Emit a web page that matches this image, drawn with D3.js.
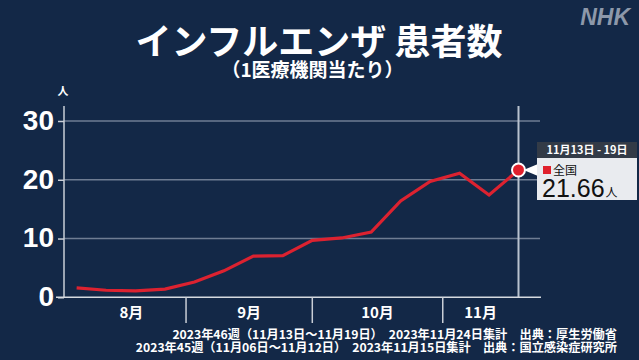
<!DOCTYPE html>
<html><head><meta charset="utf-8">
<script src="https://cdn.jsdelivr.net/npm/d3@7"></script>
<style>
html,body{margin:0;padding:0;background:#132847;}
svg{display:block;}
</style></head>
<body>
<svg id="c" width="639" height="360"></svg>
<script>
// ---- data ----
const weekEnds = ["2023-08-06","2023-08-13","2023-08-20","2023-08-27","2023-09-03","2023-09-10","2023-09-17","2023-09-24","2023-10-01","2023-10-08","2023-10-15","2023-10-22","2023-10-29","2023-11-05","2023-11-12","2023-11-19"];
const values = [1.6,1.2,1.1,1.4,2.6,4.5,7.0,7.1,9.7,10.1,11.1,16.4,19.7,21.1,17.4,21.66];
const yTicks = [0,10,20,30];
const monthLabels = ["8月","9月","10月","11月"];
const monthStarts = ["2023-08-01","2023-09-01","2023-10-01","2023-11-01","2023-12-01"];
const title = "インフルエンザ 患者数";
const subtitle = "（1医療機関当たり）";
const unit = "人";
const tipDate = "11月13日 - 19日";
const tipRegion = "全国";
const footer1 = "2023年46週（11月13日～11月19日）　2023年11月24日集計　出典：厚生労働省";
const footer2 = "2023年45週（11月06日～11月12日）　2023年11月15日集計　出典：国立感染症研究所";

const parse = d3.utcParse("%Y-%m-%d");
const dates = weekEnds.map(parse);
const svg = d3.select("#c");
const JP = "'Noto Sans CJK JP','Noto Sans',sans-serif";
const NUM = "'Liberation Sans',Arial,sans-serif";

const x = d3.scaleUtc().domain([parse("2023-08-03"), parse("2023-11-19")]).range([64, 518.5]);
const y = d3.scaleLinear().domain([0,30]).range([297.3,121]);

// title
svg.append("text").attr("x",319).attr("y",55).attr("text-anchor","middle")
  .attr("font-family",JP).attr("font-weight",700).attr("font-size",36).attr("fill","#fff").text(title);
svg.append("text").attr("x",312.5).attr("y",77).attr("text-anchor","middle")
  .attr("font-family",JP).attr("font-weight",700).attr("font-size",19).attr("fill","#fff").text(subtitle);
// NHK logo
svg.append("text").attr("x",630).attr("y",25).attr("text-anchor","end")
  .attr("font-family",NUM).attr("font-weight",700).attr("font-style","italic").attr("font-size",23)
  .attr("fill","#8d98aa").text("NHK");
// unit
svg.append("text").attr("x",63).attr("y",95).attr("text-anchor","middle")
  .attr("font-family",JP).attr("font-weight",700).attr("font-size",11).attr("fill","#fff").text(unit);

// gridlines
svg.append("g").selectAll("line").data(yTicks.filter(d=>d>0)).join("line")
  .attr("x1",64).attr("x2",540).attr("y1",d=>y(d)).attr("y2",d=>y(d))
  .attr("stroke","#6f7d93").attr("stroke-width",1.5);

// y axis
const yAxis = svg.append("g").attr("transform","translate(64,0)")
  .call(d3.axisLeft(y).tickValues(yTicks).tickSize(6).tickPadding(4));
yAxis.select(".domain").remove();
yAxis.selectAll(".tick line").attr("stroke","#c9ced6").attr("stroke-width",1.5);
yAxis.selectAll(".tick text").attr("font-family",NUM).attr("font-weight",700)
  .attr("font-size",28).attr("fill","#fff").attr("dy","0.3em");
svg.append("line").attr("x1",64).attr("x2",64).attr("y1",106).attr("y2",297.3)
  .attr("stroke","#c9ced6").attr("stroke-width",1.5);

// current week vertical line
svg.append("line").attr("x1",x(dates[dates.length-1])).attr("x2",x(dates[dates.length-1]))
  .attr("y1",106).attr("y2",297.3).attr("stroke","#b9c2cf").attr("stroke-width",2);

// x axis
svg.append("line").attr("x1",56).attr("x2",541).attr("y1",297.3).attr("y2",297.3)
  .attr("stroke","#d6dae0").attr("stroke-width",1.5);
const bounds = monthStarts.slice(1,4).map(parse);
svg.append("g").selectAll("line").data(bounds).join("line")
  .attr("x1",d=>x(d)).attr("x2",d=>x(d)).attr("y1",297.3).attr("y2",323)
  .attr("stroke","#c9ced6").attr("stroke-width",1.5);
const ms = monthStarts.map(parse);
const first = dates[0], last = dates[dates.length-1];
svg.append("g").selectAll("text").data(monthLabels).join("text")
  .attr("x",(d,i)=>{
    const a = ms[i] < first ? first : ms[i];
    const b = ms[i+1] > last ? last : ms[i+1];
    return (x(a)+x(b))/2;
  })
  .attr("y",318).attr("text-anchor","middle")
  .attr("font-family",JP).attr("font-weight",700).attr("font-size",15).attr("fill","#fff")
  .text(d=>d);

// line
const line = d3.line().x((d,i)=>x(dates[i])).y(d=>y(d));
svg.append("path").datum(values).attr("d",line).attr("fill","none")
  .attr("stroke","#dc2230").attr("stroke-width",3.2).attr("stroke-linejoin","miter");

// last point
const lx = x(last), ly = y(values[values.length-1]);
svg.append("circle").attr("cx",lx).attr("cy",ly).attr("r",6.5)
  .attr("fill","#e0202c").attr("stroke","#fff").attr("stroke-width",2);

// tooltip
const tx = 537, tw = 100;
svg.append("path").attr("d",`M${lx+5},${ly} L${tx+1},${ly-6} L${tx+1},${ly+6} Z`).attr("fill","#fff");
svg.append("rect").attr("x",tx).attr("y",142).attr("width",tw).attr("height",16).attr("fill","#333b47");
svg.append("text").attr("x",tx+tw/2).attr("y",154).attr("text-anchor","middle")
  .attr("font-family",JP).attr("font-weight",700).attr("font-size",11).attr("fill","#fff").text(tipDate);
svg.append("rect").attr("x",tx).attr("y",158).attr("width",tw).attr("height",42).attr("fill","#e9ebef");
svg.append("rect").attr("x",543).attr("y",166).attr("width",8).attr("height",8).attr("fill","#e0202c");
svg.append("text").attr("x",553).attr("y",174.5)
  .attr("font-family",JP).attr("font-weight",400).attr("font-size",12).attr("fill","#111").text(tipRegion);
const vt = svg.append("text").attr("x",542).attr("y",196.5)
  .attr("font-family",NUM).attr("font-weight",400).attr("fill","#111");
vt.append("tspan").attr("font-size",25).text(d3.format(".2f")(values[values.length-1]));
vt.append("tspan").attr("font-family",JP).attr("font-size",12).attr("dx",1).text(unit);

// footer
svg.append("text").attr("x",617).attr("y",339).attr("text-anchor","end")
  .attr("font-family",JP).attr("font-weight",700).attr("font-size",12.2).attr("fill","#fff").text(footer1);
svg.append("text").attr("x",617).attr("y",352).attr("text-anchor","end")
  .attr("font-family",JP).attr("font-weight",700).attr("font-size",12.2).attr("fill","#fff").text(footer2);
</script>
</body></html>
